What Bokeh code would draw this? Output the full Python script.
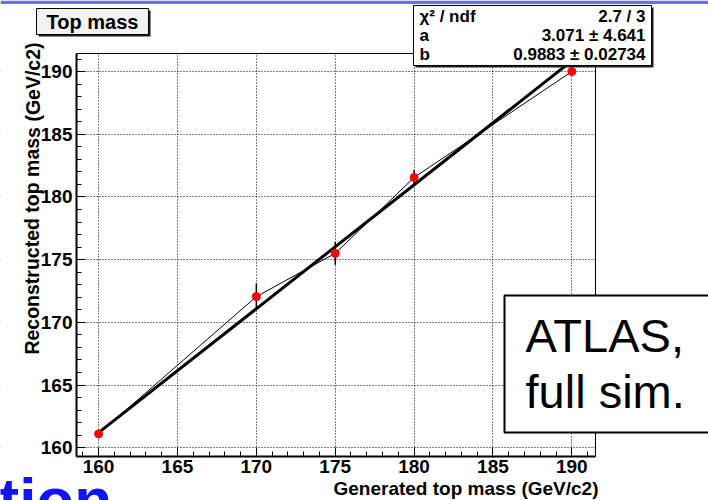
from bokeh.plotting import figure
from bokeh.models import (Label, BoxAnnotation, SingleIntervalTicker, FixedTicker,
                          LinearAxis, Range1d)
from bokeh.embed import file_html
from bokeh.resources import INLINE

# Generated vs reconstructed top-quark mass (GeV/c2)
gen_mass = [160, 170, 175, 180, 190]
reco_mass = [161.1, 172.05, 175.5, 181.55, 190.0]
reco_err = [0.35, 1.05, 0.9, 0.6, 0.3]

# Straight-line fit  reco = a + b * gen
fit_a, fit_a_err = 3.071, 4.641
fit_b, fit_b_err = 0.9883, 0.02734
chi2_text, ndf_text = "2.7", "3"
fit_x = [160, 190]

x_title = "Generated top mass (GeV/c2)"
y_title = "Reconstructed top mass (GeV/c2)"
plot_title = "Top mass"

FONT = "Liberation Sans"
W, H = 708, 500
# edges of the plotting region in canvas pixels and its data limits
FL, FR, FT, FB = 76, 595, 53, 456
X0, X1 = 158.6, 191.5
Y0, Y1 = 159.3, 191.44


def dx(px):
    return X0 + (px - FL) * (X1 - X0) / (FR - FL)


def dy(py):
    return Y1 - (py - FT) * (Y1 - Y0) / (FB - FT)


def text(x, y, s, size, align="left", bold=True, color="black", **kw):
    p.add_layout(Label(x=dx(x), y=dy(y), text=s, text_align=align,
                       text_baseline="middle", text_font=FONT,
                       text_font_style="bold" if bold else "normal",
                       text_font_size=f"{size}px", text_color=color, **kw))


def box(left, right, top, bottom, fill, line=None, width=1, level="annotation"):
    p.add_layout(BoxAnnotation(left=dx(left), right=dx(right), top=dy(top),
                               bottom=dy(bottom), fill_color=fill, fill_alpha=1,
                               line_color=line, line_alpha=1, line_width=width,
                               level=level))


# the frame spans the whole canvas; axes are pinned to the plotting region
p = figure(width=W, height=H, output_backend="svg", toolbar_location=None,
           x_range=Range1d(dx(0), dx(W)), y_range=Range1d(dy(H), dy(0)),
           min_border=0)
p.title.visible = False
p.background_fill_color = "white"
p.border_fill_color = "white"
p.outline_line_color = None

for ax in (p.xaxis[0], p.yaxis[0]):
    ax.ticker = SingleIntervalTicker(interval=5, num_minor_ticks=5)
    ax.major_tick_in = 9
    ax.major_tick_out = 0
    ax.minor_tick_in = 5
    ax.minor_tick_out = 0
    ax.axis_line_width = 2
    ax.axis_line_color = "black"
    ax.major_tick_line_color = "black"
    ax.minor_tick_line_color = "black"
    ax.major_label_text_font = FONT
    ax.major_label_text_font_style = "bold"
    ax.major_label_text_font_size = "19px"
    ax.major_label_text_color = "black"
p.xaxis[0].fixed_location = Y0
p.xaxis[0].bounds = (X0, X1)
p.yaxis[0].fixed_location = X0
p.yaxis[0].bounds = (Y0, Y1)
p.xaxis.major_label_standoff = 3
p.yaxis.major_label_standoff = 4

# thin top and right edges of the plotting region
top_edge = LinearAxis(fixed_location=Y1, bounds=(X0, X1), ticker=FixedTicker(ticks=[]),
                      major_label_text_color=None, axis_line_width=1,
                      axis_line_color="black")
right_edge = LinearAxis(fixed_location=X1, bounds=(Y0, Y1), ticker=FixedTicker(ticks=[]),
                        major_label_text_color=None, axis_line_width=1,
                        axis_line_color="black")
p.add_layout(top_edge, "above")
p.add_layout(right_edge, "right")

for g in (p.xgrid[0], p.ygrid[0]):
    g.grid_line_color = "black"
    g.grid_line_dash = "1 2"
    g.grid_line_width = 1

# white margins around the plotting region hide grid lines outside it
for kw in (dict(left=dx(0), right=X0, top=dy(0), bottom=dy(H)),
           dict(left=X1, right=dx(W), top=dy(0), bottom=dy(H)),
           dict(left=dx(0), right=dx(W), top=dy(0), bottom=Y1),
           dict(left=dx(0), right=dx(W), top=Y0, bottom=dy(H))):
    p.add_layout(BoxAnnotation(fill_color="white", fill_alpha=1, line_color=None,
                               level="underlay", **kw))

# fit line (thick), point-to-point line (thin), error bars, markers
fit_y = [fit_a + fit_b * x for x in fit_x]
p.line(fit_x, fit_y, line_color="black", line_width=3)
p.line(gen_mass, reco_mass, line_color="black", line_width=1)
p.segment(gen_mass, [m - e for m, e in zip(reco_mass, reco_err)],
          gen_mass, [m + e for m, e in zip(reco_mass, reco_err)],
          line_color="black", line_width=1.5)
p.scatter(gen_mass, reco_mass, size=8, fill_color="red", line_color="red")

# axis titles
text(598, 488, x_title, 19, align="right")
text(32, 42, y_title, 19.5, align="right", angle=1.5707963)

# slide header strip
box(0, W, 0, 3.5, "#6c6cf0")

# title pave with shadow
box(38, 150, 10, 36, "#1e1e1e")
box(36, 148, 8, 34, "#f2f2f2", line="black")
text(92, 21, plot_title, 20, align="center")

# fit statistics pave with shadow
box(415, 653, 7, 67, "#1e1e1e")
box(413, 651, 5, 65, "white", line="black")
stat_rows = [("χ² / ndf", f"{chi2_text} / {ndf_text}"),
             ("a", f"{fit_a} ± {fit_a_err}"),
             ("b", f"{fit_b} ± {fit_b_err}")]
for i, (name, val) in enumerate(stat_rows):
    text(419, 16 + 19 * i, name, 17)
    text(645, 16 + 19 * i, val, 17, align="right")

# simulation note
box(504, 712, 295, 432, "white", line="black", width=2)
text(525, 335, "ATLAS,", 47, bold=False)
text(525, 391, "full sim.", 47, bold=False)

# slide text running under the chart
text(-2, 499, "tion", 62, color="#1414f0")

open("out.html", "w").write(file_html(p, INLINE))
